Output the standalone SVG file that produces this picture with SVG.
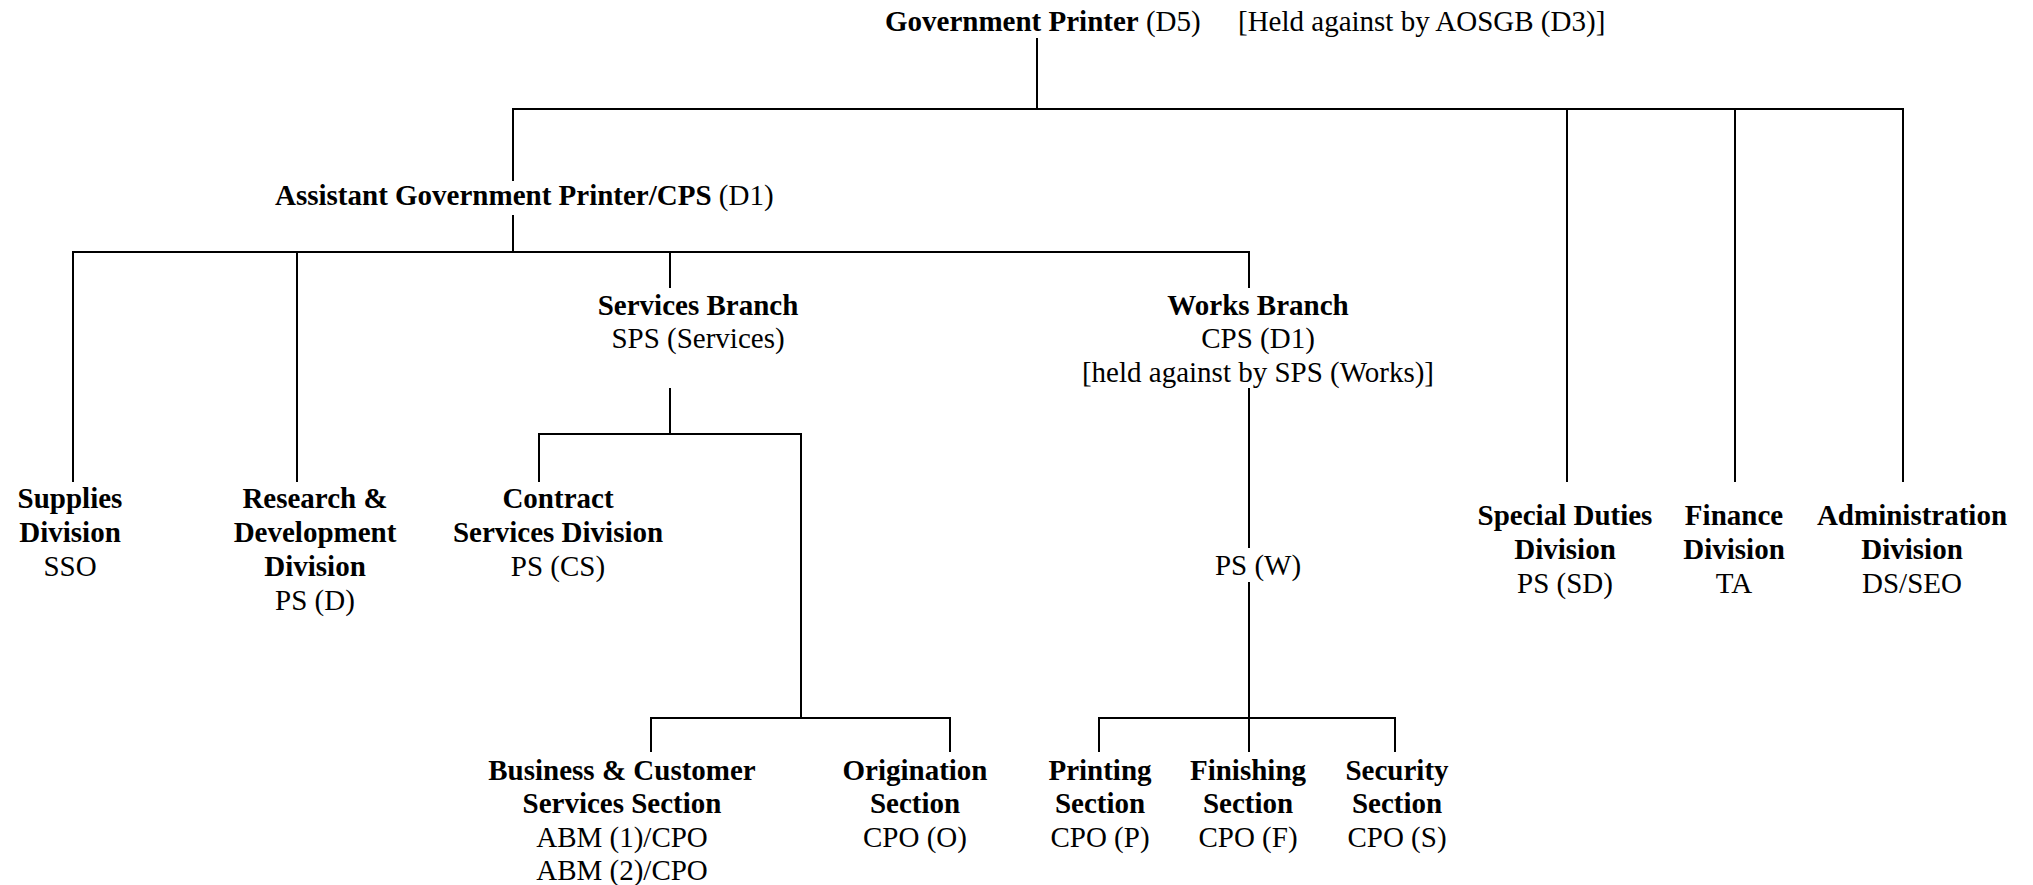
<svg xmlns="http://www.w3.org/2000/svg" width="2033" height="885" viewBox="0 0 2033 885">
<style>
  .t { font-family: "Liberation Serif", "Times New Roman", serif; font-size: 29px; fill: #000; }
  .c { text-anchor: middle; }
  .b { font-weight: bold; }
  .conn path { fill: none; stroke: #000; stroke-width: 2; stroke-linecap: square; }
</style>
<rect x="0" y="0" width="2033" height="885" fill="#fff"/>
<g class="conn" id="connectors">
  <path d="M1037 39 V109"/>
  <path d="M513 109 H1903"/>
  <path d="M513 109 V180"/>
  <path d="M513 216 V252"/>
  <path d="M1567 109 V481"/>
  <path d="M1735 109 V481"/>
  <path d="M1903 109 V481"/>
  <path d="M73 252 H1249"/>
  <path d="M73 252 V481"/>
  <path d="M297 252 V481"/>
  <path d="M670 252 V287"/>
  <path d="M1249 252 V287"/>
  <path d="M670 389 V434"/>
  <path d="M539 481 V434 H801 V718"/>
  <path d="M651 751 V718 H950 V751"/>
  <path d="M1249 389 V547"/>
  <path d="M1249 583 V751"/>
  <path d="M1099 751 V718 H1395 V751"/>
</g>
<g id="government-printer" class="t">
  <text x="885" y="31"><tspan class="b">Government Printer</tspan> (D5)</text>
  <text x="1238" y="31">[Held against by AOSGB (D3)]</text>
</g>
<g id="assistant-government-printer" class="t">
  <text x="275" y="205"><tspan class="b">Assistant Government Printer/CPS</tspan> (D1)</text>
</g>
<g id="supplies-division" class="t c">
  <text x="70" y="508" class="b">Supplies</text>
  <text x="70" y="542" class="b">Division</text>
  <text x="70" y="576">SSO</text>
</g>
<g id="research-development-division" class="t c">
  <text x="315" y="508" class="b">Research &amp;</text>
  <text x="315" y="542" class="b">Development</text>
  <text x="315" y="576" class="b">Division</text>
  <text x="315" y="610">PS (D)</text>
</g>
<g id="contract-services-division" class="t c">
  <text x="558" y="508" class="b">Contract</text>
  <text x="558" y="542" class="b">Services Division</text>
  <text x="558" y="576">PS (CS)</text>
</g>
<g id="services-branch" class="t c">
  <text x="698" y="315" class="b">Services Branch</text>
  <text x="698" y="348">SPS (Services)</text>
</g>
<g id="works-branch" class="t c">
  <text x="1258" y="315" class="b">Works Branch</text>
  <text x="1258" y="348">CPS (D1)</text>
  <text x="1258" y="382">[held against by SPS (Works)]</text>
</g>
<g id="ps-w" class="t c">
  <text x="1258" y="575">PS (W)</text>
</g>
<g id="special-duties-division" class="t c">
  <text x="1565" y="525" class="b">Special Duties</text>
  <text x="1565" y="559" class="b">Division</text>
  <text x="1565" y="593">PS (SD)</text>
</g>
<g id="finance-division" class="t c">
  <text x="1734" y="525" class="b">Finance</text>
  <text x="1734" y="559" class="b">Division</text>
  <text x="1734" y="593">TA</text>
</g>
<g id="administration-division" class="t c">
  <text x="1912" y="525" class="b">Administration</text>
  <text x="1912" y="559" class="b">Division</text>
  <text x="1912" y="593">DS/SEO</text>
</g>
<g id="business-customer-services-section" class="t c">
  <text x="622" y="780" class="b">Business &amp; Customer</text>
  <text x="622" y="813" class="b">Services Section</text>
  <text x="622" y="847">ABM (1)/CPO</text>
  <text x="622" y="880">ABM (2)/CPO</text>
</g>
<g id="origination-section" class="t c">
  <text x="915" y="780" class="b">Origination</text>
  <text x="915" y="813" class="b">Section</text>
  <text x="915" y="847">CPO (O)</text>
</g>
<g id="printing-section" class="t c">
  <text x="1100" y="780" class="b">Printing</text>
  <text x="1100" y="813" class="b">Section</text>
  <text x="1100" y="847">CPO (P)</text>
</g>
<g id="finishing-section" class="t c">
  <text x="1248" y="780" class="b">Finishing</text>
  <text x="1248" y="813" class="b">Section</text>
  <text x="1248" y="847">CPO (F)</text>
</g>
<g id="security-section" class="t c">
  <text x="1397" y="780" class="b">Security</text>
  <text x="1397" y="813" class="b">Section</text>
  <text x="1397" y="847">CPO (S)</text>
</g>
</svg>
